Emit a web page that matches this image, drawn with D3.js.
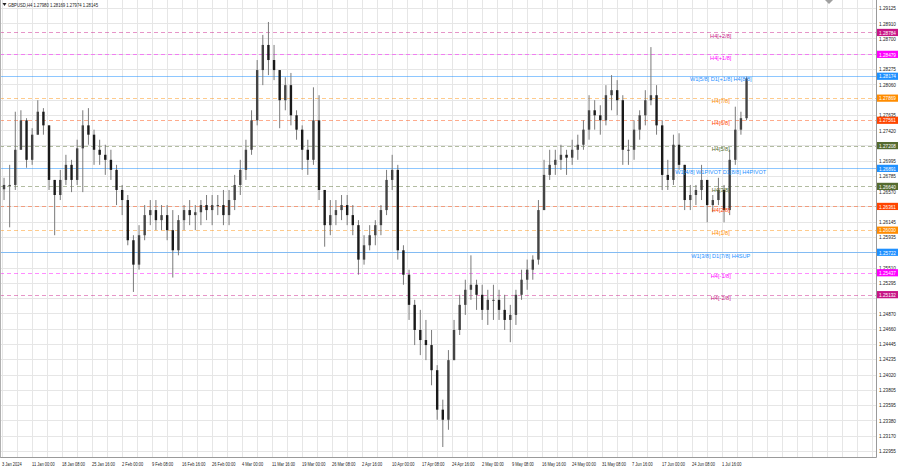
<!DOCTYPE html>
<html><head><meta charset="utf-8">
<script src="https://cdn.jsdelivr.net/npm/d3@7"></script>
<style>html,body{margin:0;padding:0;background:#fff;overflow:hidden}svg{display:block}</style>
</head><body>
<svg id="chart" width="900" height="468"></svg>
<script>
// ---------------- data ----------------
const symbolTitle = "GBPUSD,H4";
const lastBarOHLC = [1.27980, 1.28169, 1.27974, 1.28145];
const barsPerCandle = 6;           // each drawn candle groups 6 H4 bars
const firstOpen = 1.2660;
const highs = [1.2676,1.2694,1.2768,1.2770,1.2759,1.2745,1.2784,1.2773,1.2749,1.2673,
1.2687,1.2708,1.2701,1.2729,1.2770,1.2773,1.2743,1.2729,1.2722,1.2715,
1.2694,1.2666,1.2652,1.2596,1.2610,1.2638,1.2645,1.2645,1.2638,1.2638,
1.2631,1.2624,1.2638,1.2645,1.2638,1.2645,1.2652,1.2652,1.2652,1.2659,
1.2659,1.2680,1.2701,1.2729,1.2770,1.2840,1.2875,1.2893,1.2861,1.2826,
1.2816,1.2822,1.2770,1.2749,1.2729,1.2802,1.2791,1.2659,1.2645,1.2645,
1.2652,1.2652,1.2638,1.2617,1.2596,1.2610,1.2617,1.2638,1.2687,1.2708,
1.2694,1.2582,1.2548,1.2506,1.2492,1.2478,1.2464,1.2415,1.2367,1.2436,
1.2478,1.2513,1.2534,1.2568,1.2534,1.2527,1.2520,1.2527,1.2520,1.2513,
1.2499,1.2520,1.2548,1.2562,1.2568,1.2645,1.2701,1.2715,1.2715,1.2722,
1.2715,1.2729,1.2736,1.2756,1.2791,1.2784,1.2777,1.2805,1.2819,1.2812,
1.2791,1.2729,1.2756,1.2770,1.2798,1.2858,1.2805,1.2756,1.2701,1.2736,
1.2738,1.2694,1.2666,1.2666,1.2694,1.2673,1.2652,1.2676,1.2666,1.2715,
1.2775,1.2768,1.28169];
const lows = [1.2645,1.2607,1.2659,1.2715,1.2690,1.2694,1.2736,1.2736,1.2659,1.2596,
1.2645,1.2666,1.2656,1.2666,1.2656,1.2722,1.2694,1.2694,1.2680,1.2673,
1.2638,1.2624,1.2582,1.2517,1.2548,1.2589,1.2610,1.2603,1.2603,1.2589,
1.2537,1.2568,1.2603,1.2610,1.2603,1.2610,1.2617,1.2610,1.2624,1.2610,
1.2610,1.2631,1.2652,1.2673,1.2708,1.2749,1.2805,1.2819,1.2812,1.2745,
1.2770,1.2749,1.2729,1.2687,1.2680,1.2694,1.2645,1.2580,1.2596,1.2610,
1.2617,1.2610,1.2596,1.2541,1.2555,1.2575,1.2582,1.2596,1.2624,1.2659,
1.2562,1.2527,1.2478,1.2443,1.2429,1.2422,1.2387,1.2339,1.2301,1.2325,
1.2422,1.2457,1.2485,1.2506,1.2492,1.2478,1.2471,1.2478,1.2478,1.2464,
1.2447,1.2471,1.2506,1.2520,1.2534,1.2555,1.2631,1.2673,1.2680,1.2687,
1.2680,1.2694,1.2701,1.2715,1.2729,1.2743,1.2736,1.2749,1.2770,1.2763,
1.2694,1.2694,1.2701,1.2729,1.2749,1.2777,1.2736,1.2659,1.2659,1.2666,
1.2687,1.2631,1.2631,1.2638,1.2645,1.2614,1.2628,1.2638,1.2614,1.2624,
1.2694,1.2736,1.2756];
const closes = [1.2666,1.2666,1.2715,1.2756,1.2701,1.2736,1.2768,1.2749,1.2673,1.2652,
1.2673,1.2694,1.2673,1.2717,1.2749,1.2736,1.2715,1.2708,1.2701,1.2687,
1.2659,1.2645,1.2589,1.2555,1.2596,1.2624,1.2631,1.2617,1.2624,1.2603,
1.2575,1.2617,1.2631,1.2624,1.2628,1.2638,1.2631,1.2638,1.2638,1.2624,
1.2645,1.2666,1.2687,1.2715,1.2756,1.2826,1.2861,1.2840,1.2826,1.2784,
1.2805,1.2763,1.2743,1.2715,1.2701,1.2756,1.2659,1.2610,1.2624,1.2631,
1.2638,1.2624,1.2610,1.2562,1.2582,1.2596,1.2610,1.2631,1.2673,1.2687,
1.2575,1.2541,1.2499,1.2464,1.2450,1.2443,1.2408,1.2353,1.2339,1.2422,
1.2464,1.2499,1.2520,1.2527,1.2513,1.2492,1.2506,1.2506,1.2492,1.2478,
1.2485,1.2513,1.2534,1.2548,1.2562,1.2631,1.2680,1.2694,1.2701,1.2708,
1.2704,1.2715,1.2722,1.2743,1.2770,1.2763,1.2756,1.2791,1.2798,1.2784,
1.2715,1.2715,1.2743,1.2763,1.2784,1.2791,1.2749,1.2680,1.2673,1.2722,
1.2694,1.2645,1.2652,1.2659,1.2673,1.2638,1.2645,1.2659,1.2631,1.2701,
1.2743,1.2759,1.28145];

const timeLabels = ["3 Jan 2024","11 Jan 00:00","18 Jan 08:00","25 Jan 16:00","2 Feb 00:00","9 Feb 08:00",
"16 Feb 16:00","26 Feb 00:00","4 Mar 00:00","11 Mar 16:00","19 Mar 00:00","26 Mar 08:00","2 Apr 16:00",
"10 Apr 00:00","17 Apr 08:00","24 Apr 16:00","2 May 00:00","9 May 08:00","16 May 16:00","24 May 00:00",
"31 May 08:00","7 Jun 16:00","17 Jun 00:00","24 Jun 08:00","1 Jul 16:00"];
const barsPerTimeLabel = 32;
const barsPerGridLine = 16;

const priceTicks = [1.29125,1.28910,1.28700,1.28485,1.28275,1.28060,1.27845,1.27635,1.27420,1.27210,
1.26995,1.26785,1.26570,1.26360,1.26145,1.25935,1.25720,1.25510,1.25295,1.25085,1.24870,1.24660,
1.24445,1.24235,1.24020,1.23805,1.23595,1.23380,1.23170,1.22955];

const levelNames  = ["H4[+2/8]","H4[+1/8]","W1[5/8] D1[+1/8] H4[8/8]","H4[7/8]","H4[6/8]","H4[5/8]",
"W1[4/8] W1PIVOT D1[8/8] H4PIVOT","H4[3/8]","H4[2/8]","H4[1/8]","W1[3/8] D1[7/8] H4SUP","H4[-1/8]","H4[-2/8]"];
const levelPrices = [1.28784,1.28479,1.28174,1.27869,1.27561,1.27208,1.26891,1.26640,1.26361,1.26030,1.25722,1.25437,1.25132];
const levelColors = ["#C71585","#FF00FF","#1E90FF","#FF8C00","#FF4500","#556B2F","#1E90FF","#556B2F","#FF4500","#FF8C00","#1E90FF","#FF00FF","#C71585"];
const levelDashed = [true,true,false,true,true,true,false,true,true,true,false,true,true];

// ---------------- layout ----------------
const plotRight = 876.5, plotBottom = 457.5;
const font = "'Liberation Sans', Arial, sans-serif";
const svg = d3.select("#chart");

const x = d3.scaleLinear().domain([0, 933]).range([1.7, 876.4]);
const y = d3.scaleLinear().domain([1.22871, 1.29236]).range([457, 0]);

// grid
const grid = svg.append("g");
const nGrid = Math.floor(933 / barsPerGridLine);
grid.selectAll("line.v").data(d3.range(0, nGrid + 1)).join("line")
  .attr("x1", d => Math.round(x(d * barsPerGridLine)) + 0.5).attr("x2", d => Math.round(x(d * barsPerGridLine)) + 0.5)
  .attr("y1", 0).attr("y2", plotBottom)
  .attr("stroke", "#e6e6e6").attr("stroke-width", 1);
grid.selectAll("line.h").data(priceTicks).join("line")
  .attr("x1", 0).attr("x2", plotRight)
  .attr("y1", d => Math.round(y(d)) + 0.5).attr("y2", d => Math.round(y(d)) + 0.5)
  .attr("stroke", "#e6e6e6").attr("stroke-width", 1);

// level lines
const lv = svg.append("g");
levelPrices.forEach((p, i) => {
  const yy = Math.round(y(p)) + 0.5;
  lv.append("line").attr("x1", 0).attr("x2", plotRight).attr("y1", yy).attr("y2", yy)
    .attr("stroke", levelColors[i]).attr("stroke-opacity", levelDashed[i] ? 0.45 : 0.5)
    .attr("stroke-width", 1)
    .attr("stroke-dasharray", levelDashed[i] ? "4,3" : null);
});

// candles
const n = Math.min(highs.length, lows.length, closes.length);
const candles = d3.range(n).map(i => ({
  i, o: i === 0 ? firstOpen : closes[i - 1], h: highs[i], l: lows[i], c: closes[i]
}));
const cx = d => x(d.i * barsPerCandle + 2.5);
const cg = svg.append("g");
cg.selectAll("line.w").data(candles).join("line")
  .attr("x1", cx).attr("x2", cx)
  .attr("y1", d => y(Math.max(d.h, d.o, d.c))).attr("y2", d => y(Math.min(d.l, d.o, d.c)))
  .attr("stroke", "#7a7a7a").attr("stroke-width", 1);
cg.selectAll("rect.b").data(candles).join("rect")
  .attr("x", d => cx(d) - 1.2)
  .attr("width", 2.4)
  .attr("y", d => y(Math.max(d.o, d.c)))
  .attr("height", d => Math.max(1, Math.abs(y(d.o) - y(d.c))))
  .attr("fill", d => d.c >= d.o ? "#444" : "#1a1a1a");

// level labels on chart
const labelX = x(767);
levelPrices.forEach((p, i) => {
  svg.append("text").attr("x", labelX).attr("y", y(p) + 5.2)
    .attr("text-anchor", "middle").attr("font-family", font).attr("font-size", 5.6)
    .attr("fill", levelColors[i]).text(levelNames[i]);
});

// axes separators
svg.append("line").attr("x1", plotRight).attr("x2", plotRight).attr("y1", 0).attr("y2", plotBottom)
  .attr("stroke", "#9a9a9a");
svg.append("line").attr("x1", 0).attr("x2", plotRight).attr("y1", plotBottom).attr("y2", plotBottom)
  .attr("stroke", "#9a9a9a");
svg.append("line").attr("x1", 0.5).attr("x2", 0.5).attr("y1", 0).attr("y2", plotBottom)
  .attr("stroke", "#b0b0b0");

// right price axis (tick labels hidden under a level box are not drawn)
const ax = svg.append("g");
const visibleTicks = priceTicks.filter(t => levelPrices.every(p => Math.abs(y(t) - y(p)) > 4.5));
ax.selectAll("text").data(visibleTicks).join("text")
  .attr("x", 879).attr("y", d => y(d) + 2.2)
  .attr("font-family", font).attr("font-size", 6).attr("fill", "#222")
  .attr("textLength", 17).attr("lengthAdjust", "spacingAndGlyphs")
  .text(d => d.toFixed(5));
levelPrices.forEach((p, i) => {
  const yy = y(p);
  ax.append("rect").attr("x", 877).attr("y", yy - 3.6).attr("width", 21).attr("height", 7.2)
    .attr("fill", levelColors[i]);
  ax.append("text").attr("x", 879).attr("y", yy + 2.2)
    .attr("font-family", font).attr("font-size", 6).attr("fill", "#fff")
    .attr("textLength", 17).attr("lengthAdjust", "spacingAndGlyphs")
    .text(p.toFixed(5));
});

// time axis
svg.append("g").selectAll("text").data(timeLabels).join("text")
  .attr("transform", (d, k) => `translate(${x(k * barsPerTimeLabel) + 0.3},466) scale(0.75,1)`)
  .attr("font-family", font).attr("font-size", 5.3).attr("fill", "#222")
  .text(d => d);

// header
svg.append("path").attr("d", "M2.5,3 L6.5,3 L4.5,6 Z").attr("fill", "#222");
svg.append("text").attr("x", 8).attr("y", 6.8).attr("font-family", font).attr("font-size", 5.4)
  .attr("fill", "#222").attr("textLength", 90).attr("lengthAdjust", "spacingAndGlyphs")
  .text(symbolTitle + " " + lastBarOHLC.map(v => v.toFixed(5)).join(" "));
// chart-shift marker
svg.append("path").attr("d", "M825,0 L833,0 L829,4 Z").attr("fill", "#a0a0a0");
</script>
</body></html>
